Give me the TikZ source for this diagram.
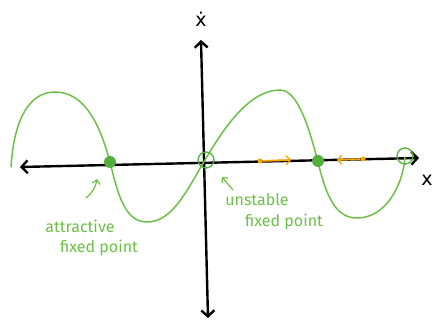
\documentclass[tikz,border=0pt]{standalone}
\usepackage{fontspec}
\setmainfont{Fira Sans}
\newfontfamily\djv{DejaVu Sans}
\usetikzlibrary{arrows.meta}
\definecolor{grn}{RGB}{110,190,72}
\definecolor{dgrn}{RGB}{84,174,62}
\definecolor{org}{RGB}{245,165,0}
\tikzset{
  axis/.style={line width=2.4pt, black, line cap=round},
  curve/.style={line width=1.5pt, grn, line cap=round},
  attr/.style={circle, fill=dgrn, inner sep=0pt, minimum size=12pt},
  unst/.style={circle, draw=dgrn, line width=1.3pt, inner sep=0pt, minimum size=16pt},
  odot/.style={circle, fill=org, inner sep=0pt, minimum size=5pt},
  oarrow/.style={org, line width=1.8pt, -{Straight Barb[length=4pt,width=9pt,line width=1.3pt]}},
  note/.style={grn, font=\fontsize{16}{18}\selectfont, inner sep=0pt},
  narrow/.style={grn, line width=1.2pt, -{Straight Barb[length=4pt,width=8pt]}},
  lbl/.style={font=\djv\fontsize{19}{22}\selectfont, inner sep=0pt},
  axtip/.tip={Straight Barb[length=6pt,width=13pt]}
}
\begin{document}
\begin{tikzpicture}[x=1pt,y=-1pt]
\useasboundingbox (0,0) rectangle (432,320);
% axes
\coordinate (xl) at (20,167);
\coordinate (xr) at (419,158);
\coordinate (yt) at (201,40);
\coordinate (yb) at (208,318);
\draw[axis, axtip-axtip] (xl) -- (xr);
\draw[axis, axtip-axtip] (yt) -- (yb);
\node[lbl] (xdot) at (201,19) {ẋ};
\node[lbl] (xlab) at (427,180) {x};
% curve
\draw[curve] (11,167) .. controls (14,118) and (30,92) .. (55,92)
  .. controls (85,92) and (100,125) .. (110,162)
  .. controls (118,195) and (125,222) .. (147,222)
  .. controls (172,222) and (186,192) .. (205,160)
  .. controls (225,126) and (250,90) .. (280,90)
  .. controls (298,90) and (309,128) .. (318,162)
  .. controls (326,195) and (335,218) .. (357,218)
  .. controls (386,218) and (403,185) .. (405,157);
% fixed points
\node[attr] (a1) at (110,162) {};
\node[attr] (a2) at (318,161) {};
\node[unst] (u1) at (206,160) {};
\node[unst] (u2) at (405,156) {};
% orange flow arrows
\node[odot] (o1) at (260,161) {};
\coordinate (o1e) at (291,160);
\draw[oarrow] (o1) -- (o1e);
\node[odot] (o2) at (363,159) {};
\coordinate (o2e) at (337,160);
\draw[oarrow] (o2) -- (o2e);
% annotations
\node[note] (t1) at (80,226) {attractive};
\node[note] (t2) at (99,248) {fixed point};
\coordinate (p1s) at (86,198);
\coordinate (p1e) at (97,179);
\draw[narrow] (p1s) to[bend right=20] (p1e);
\node[note] (t3) at (257,200) {unstable};
\node[note] (t4) at (284,222) {fixed point};
\coordinate (p2s) at (233,190);
\coordinate (p2e) at (222,177);
\draw[narrow] (p2s) -- (p2e);
\end{tikzpicture}
\end{document}
